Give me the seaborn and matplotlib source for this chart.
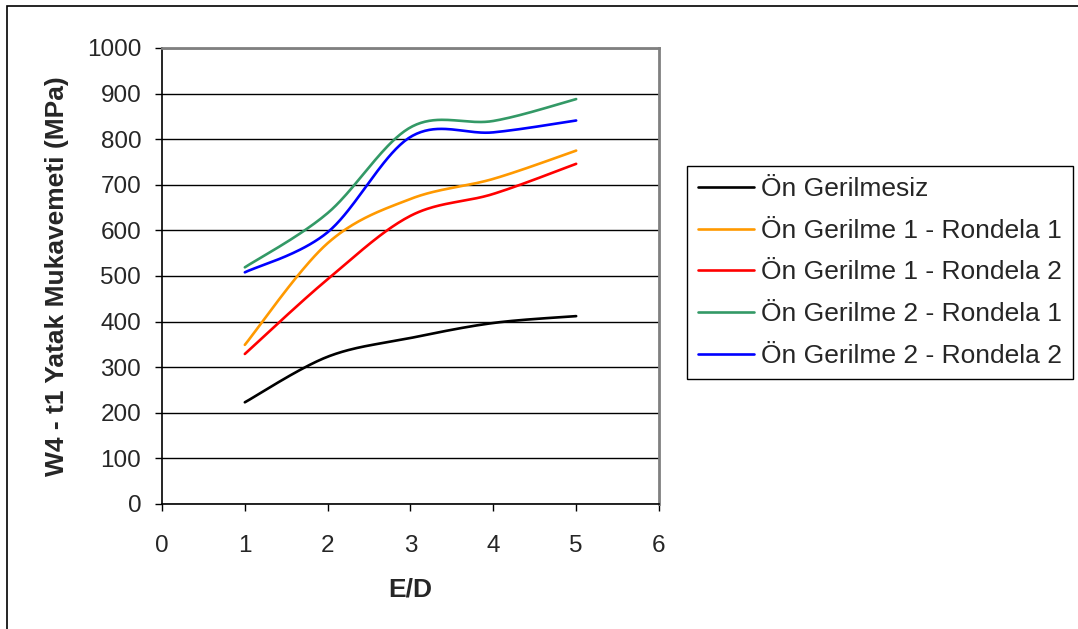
import numpy as np
import pandas as pd
import seaborn as sns
import matplotlib
matplotlib.use("Agg")
import matplotlib.pyplot as plt
from matplotlib.patches import Rectangle

# E/D ratios and bearing strength (MPa) per pre-tension / washer configuration
ed = [1, 2, 3, 4, 5]
on_gerilmesiz = [223, 323, 364, 397, 412]
og1_rondela1 = [349, 572, 669, 713, 775]
og1_rondela2 = [329, 493, 632, 680, 746]
og2_rondela1 = [519, 638, 826, 840, 888]
og2_rondela2 = [508, 596, 805, 815, 841]

series_names = [
    "Ön Gerilmesiz",
    "Ön Gerilme 1 - Rondela 1",
    "Ön Gerilme 1 - Rondela 2",
    "Ön Gerilme 2 - Rondela 1",
    "Ön Gerilme 2 - Rondela 2",
]
series_values = [on_gerilmesiz, og1_rondela1, og1_rondela2, og2_rondela1, og2_rondela2]
colors = ["#000000", "#FF9900", "#FF0000", "#339966", "#0000FF"]

x_ticks = [0, 1, 2, 3, 4, 5, 6]
y_ticks = list(range(0, 1001, 100))


def smooth_curve(xs, ys, n=40):
    """Cubic Bezier smoothing through the points (spreadsheet-style smoothed line)."""
    pts = np.column_stack([xs, ys]).astype(float)
    ext = np.vstack([pts[0], pts, pts[-1]])
    out = []
    for i in range(len(pts) - 1):
        p0 = ext[i + 1]
        p3 = ext[i + 2]
        c1 = p0 + (ext[i + 2] - ext[i]) / 6.0
        c2 = p3 - (ext[i + 3] - ext[i + 1]) / 6.0
        t = np.linspace(0, 1, n, endpoint=(i == len(pts) - 2))[:, None]
        seg = ((1 - t) ** 3) * p0 + 3 * ((1 - t) ** 2) * t * c1 + 3 * (1 - t) * t ** 2 * c2 + t ** 3 * p3
        out.append(seg)
    return np.vstack(out)


rows = []
for name, vals in zip(series_names, series_values):
    curve = smooth_curve(ed, vals)
    for cx, cy in curve:
        rows.append({"E/D": cx, "value": cy, "series": name})
df = pd.DataFrame(rows)

sns.set_theme(style="white")
plt.rcParams["font.family"] = ["Liberation Sans", "DejaVu Sans"]

W, H = 1078, 629
fig = plt.figure(figsize=(W / 100, H / 100), dpi=100)
fig.patch.set_facecolor("white")

ax = fig.add_axes([162 / W, 1 - 504 / H, (659 - 162) / W, (504 - 48) / H])

sns.lineplot(
    data=df, x="E/D", y="value", hue="series", hue_order=series_names,
    palette=colors, linewidth=1.9, ax=ax, sort=False, estimator=None, legend=False,
)

tick_fs = 17.5
ax.set_xlim(0, 6)
ax.set_ylim(0, 1000)
ax.set_xticks(x_ticks)
ax.set_yticks(y_ticks)
ax.set_xticklabels([str(v) for v in x_ticks], fontsize=tick_fs)
ax.set_yticklabels([str(v) for v in y_ticks], fontsize=tick_fs)
ax.tick_params(axis="both", direction="out", length=5, width=1, color="black",
               bottom=True, left=True)
ax.tick_params(axis="y", pad=10)
ax.tick_params(axis="x", pad=17)

ax.grid(axis="y", color="#000000", linewidth=1.0)
ax.grid(axis="x", visible=False)
ax.set_axisbelow(True)

for side in ("left", "bottom"):
    ax.spines[side].set_color("black")
    ax.spines[side].set_linewidth(1.2)
for side in ("top", "right"):
    ax.spines[side].set_color("#808080")
    ax.spines[side].set_linewidth(2.0)

ax.set_xlabel("E/D", fontsize=19, fontweight="bold", labelpad=15)
ax.set_ylabel("W4 - t1 Yatak Mukavemeti (MPa)", fontsize=19, fontweight="bold", labelpad=13)

handles = [plt.Line2D([], [], color=c, linewidth=1.9) for c in colors]
leg = ax.legend(
    handles, series_names, loc="upper left",
    bbox_to_anchor=(687 / W, 1 - 166 / H), bbox_transform=fig.transFigure,
    fontsize=19, frameon=True, fancybox=False, framealpha=1,
    edgecolor="black", handlelength=2.1, handletextpad=0.27,
    labelspacing=0.67, borderpad=0.42, borderaxespad=0,
)
leg.get_frame().set_linewidth(1.0)

# outer chart border (left and top edges fall inside the canvas)
fig.patches.append(Rectangle((7 / W, -0.05), 1.2, 1.05 - 6 / H,
                             transform=fig.transFigure, fill=False,
                             edgecolor="black", linewidth=1.2))

fig.savefig("out.png", dpi=100)
